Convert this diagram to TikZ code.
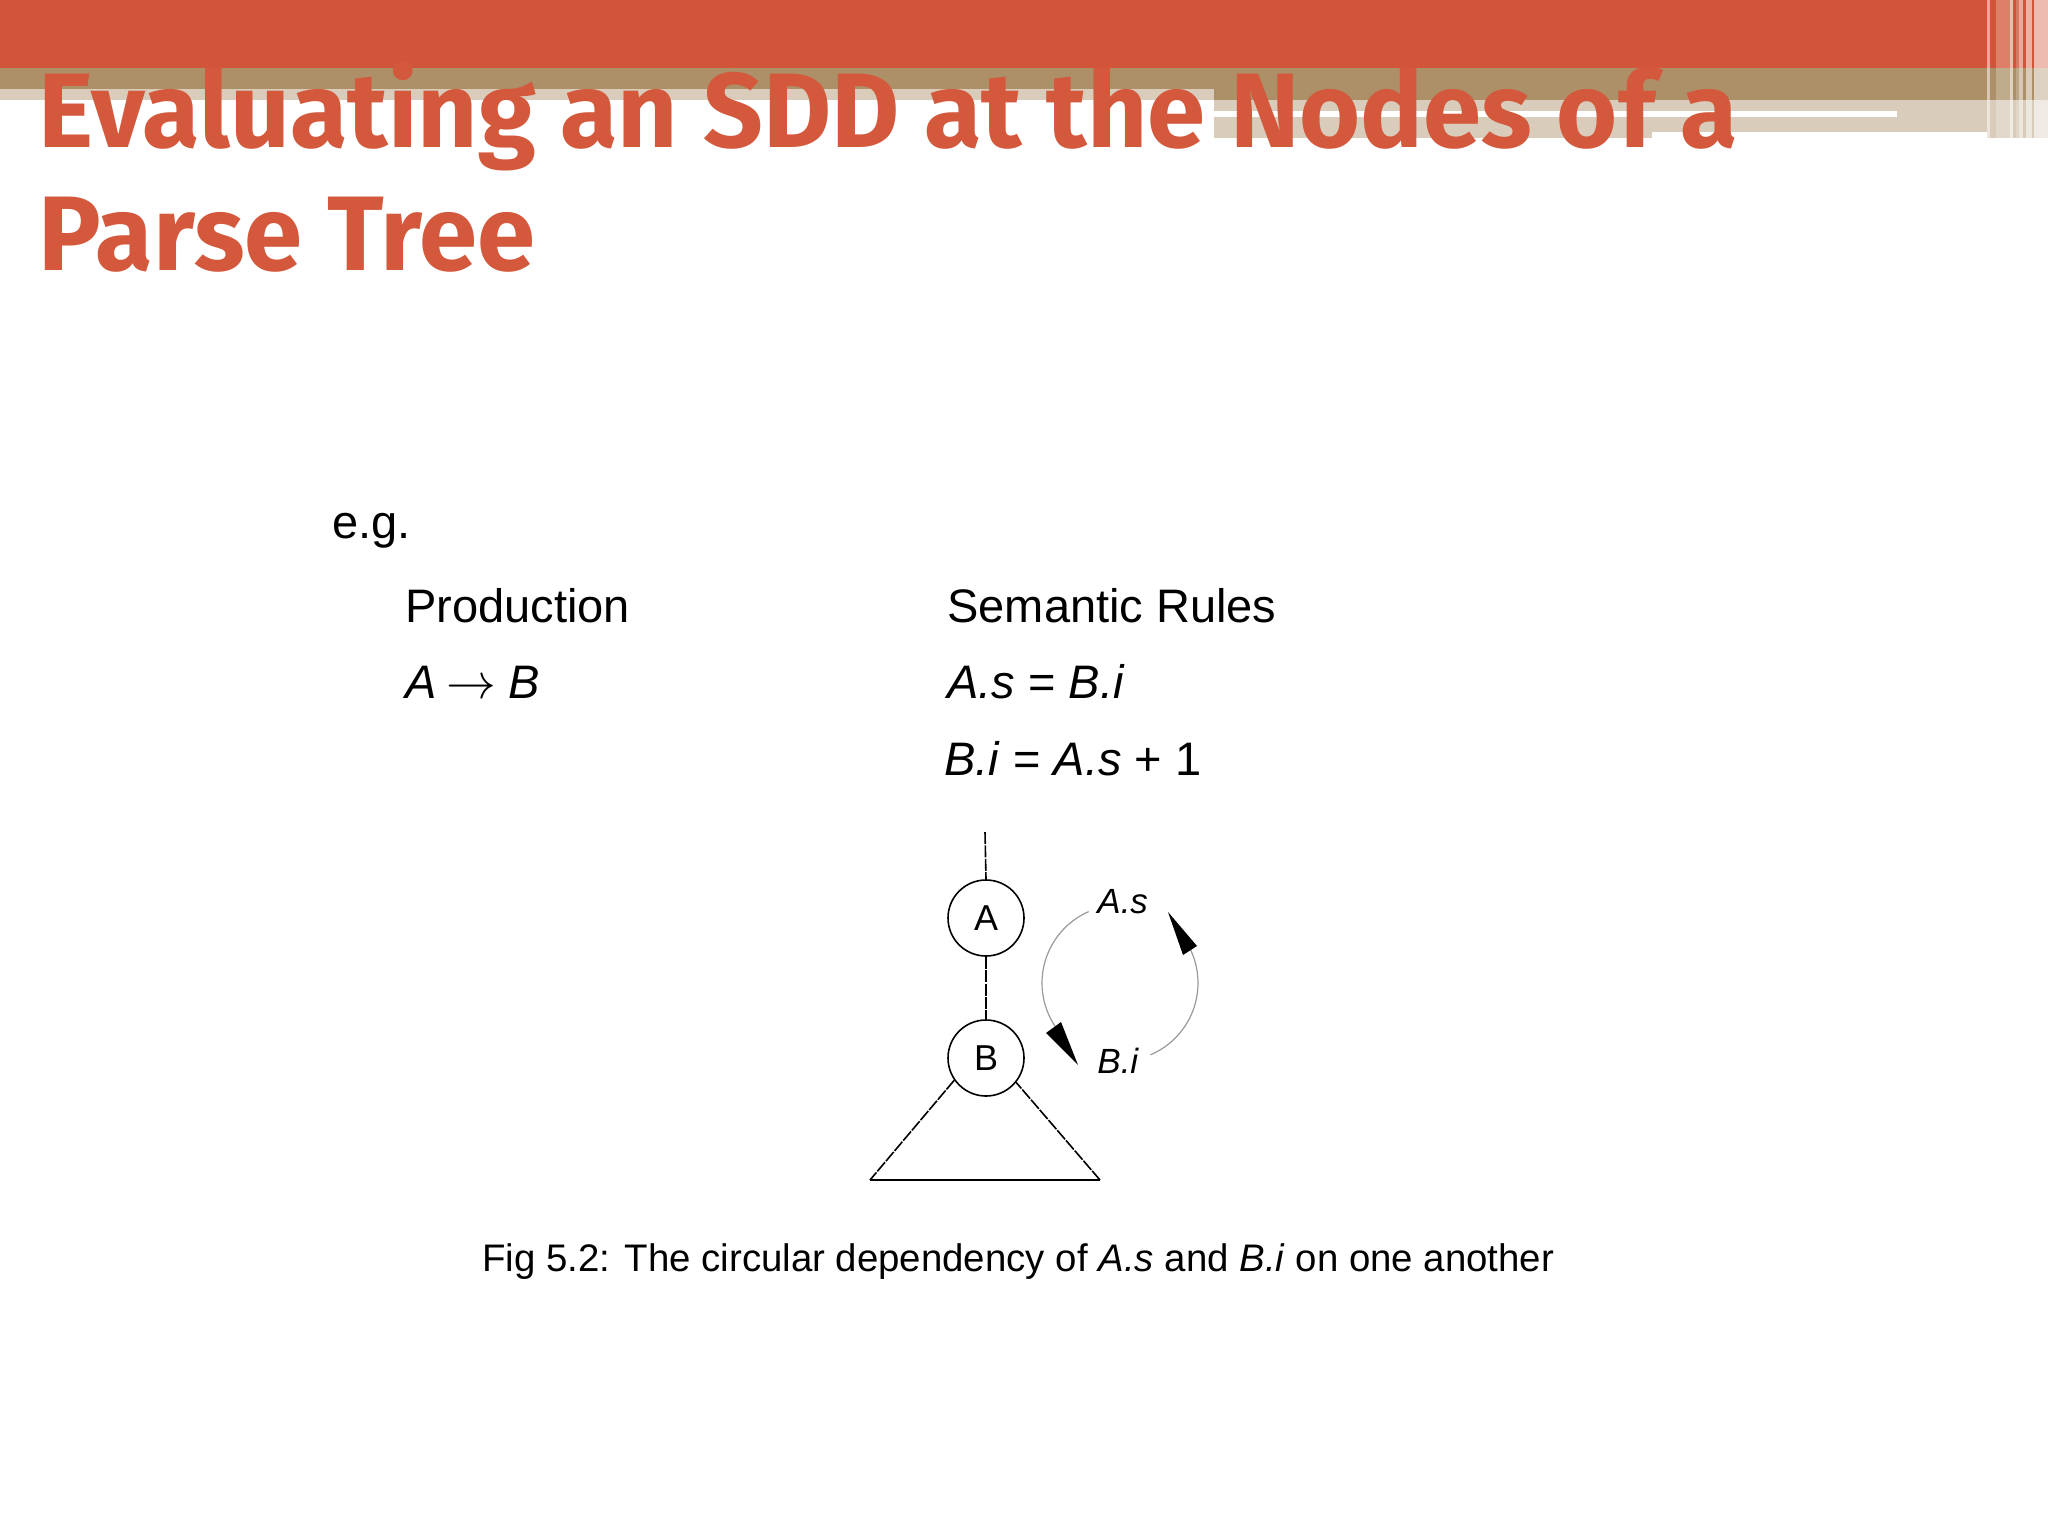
\documentclass[tikz,border=0pt]{standalone}
\usepackage{fontspec}
\setmainfont{Liberation Sans}
\newfontfamily\titlefont{Fira Sans}
\usetikzlibrary{arrows.meta}
\definecolor{hdrred}{HTML}{D35539}
\definecolor{hdrtan}{HTML}{AD9068}
\definecolor{hdrbeige}{HTML}{D9CCBA}
\definecolor{titlered}{HTML}{D4583C}
\definecolor{arcgray}{HTML}{9A9A9A}
\begin{document}
\begin{tikzpicture}[x=0.5pt,y=-0.5pt,
  titletext/.style={anchor=base west,inner sep=0pt,text=titlered,font=\titlefont\bfseries\fontsize{53pt}{60pt}\selectfont},
  bodytext/.style={anchor=base west,inner sep=0pt,font=\fontsize{23.5pt}{27pt}\selectfont},
  treenode/.style={circle,draw,line width=0.8pt,minimum size=38pt,inner sep=0pt,font=\fontsize{18pt}{20pt}\selectfont},
  treeline/.style={line width=0.8pt,dash pattern=on 6pt off 0.7pt},
  attrlabel/.style={anchor=base west,inner sep=0pt,font=\itshape\fontsize{17.5pt}{20pt}\selectfont},
  arcline/.style={arcgray,line width=0.6pt},
  tipfill/.style={fill=black},
  captiontext/.style={anchor=base west,inner sep=0pt,font=\fontsize{19.2pt}{22pt}\selectfont,text=black}
]
\useasboundingbox[fill=white] (0,0) rectangle (2048,1536);
% header bands
\fill[hdrred] (0,0) rectangle (2048,68);
\fill[hdrtan] (0,68) rectangle (1214,89);
\fill[hdrbeige] (0,89) rectangle (1214,100);
\fill[hdrtan] (1214,68) rectangle (2048,100);
\fill[hdrbeige] (1214,100) rectangle (1652,138);
\fill[hdrbeige] (1652,100) rectangle (1987,132);
\fill[hdrbeige] (1987,100) rectangle (2048,138);
\fill[white] (1214,111) rectangle (1897,117);
\foreach \a/\b/\o in {1987/1990/0.5, 1996/2010/0.25, 2010/2013/0.6, 2016/2019/0.2, 2019/2023/0.5, 2026/2032/0.55, 2034/2048/0.6}
  \fill[white,opacity=\o] (\a,0) rectangle (\b,138);
% title
\node[titletext] (title1) at (38,148) {\scalebox{0.988}[1]{Evaluating an SDD at the Nodes of a}};
\node[titletext] (title2) at (38,270) {\scalebox{0.988}[1]{Parse Tree}};
% body
\node[bodytext] (eg) at (332,538) {e.g.};
\node[bodytext] (prodhead) at (405,622) {Production};
\node[bodytext] (prod) at (405,698) {\textit{A}\hspace{5pt}$\rightarrow$\hspace{6pt}\textit{B}};
\node[bodytext] (semhead) at (947,622) {Semantic Rules};
\node[bodytext] (rule1) at (947,698) {\textit{A.s} = \textit{B.i}};
\node[bodytext] (rule2) at (944,775) {\textit{B.i} = \textit{A.s} + 1};
% tree
\coordinate (top) at (985,832);
\node[treenode] (A) at (986,918) {A};
\node[treenode] (B) at (986,1058) {B};
\draw[treeline] (top) -- (A.north);
\draw[treeline] (A.south) -- (B.north);
\coordinate (tl) at (870,1180);
\coordinate (tr) at (1100,1180);
\draw[treeline] (B.215) -- (tl);
\draw[line width=1pt] (tl) -- (tr);
\draw[treeline] (tr) -- (B.321);
% attribute labels and circular dependency
\node[attrlabel] (As) at (1097,913) {A.s};
\node[attrlabel] (Bi) at (1097,1073) {B.i};
\coordinate (cc) at (1120,983);
\draw[arcline] ([shift={(246.3:78)}]cc) arc[start angle=246.3, end angle=146.5, radius=78];
\draw[arcline] ([shift={(67:78)}]cc) arc[start angle=67, end angle=-25.2, radius=78];
\fill[tipfill] (1078,1065) -- (1046,1033) -- (1061,1022) -- cycle;
\fill[tipfill] (1168,912) -- (1183,955) -- (1197,946) -- cycle;
% caption
\node[captiontext] (cap) at (482,1271) {Fig 5.2: The circular dependency of \textit{A.s} and \textit{B.i} on one another};
\end{tikzpicture}
\end{document}
